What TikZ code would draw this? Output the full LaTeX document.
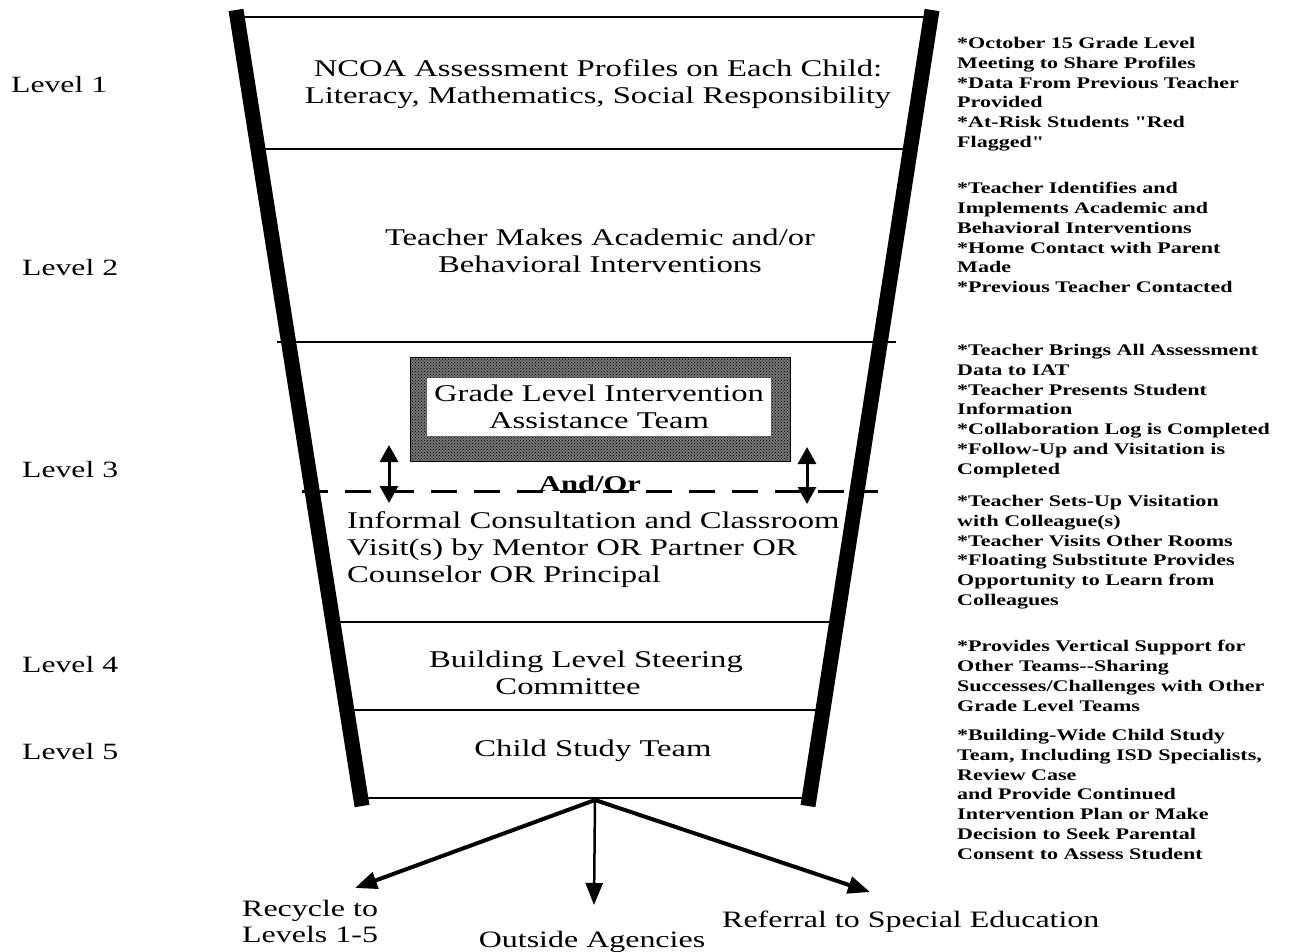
\documentclass[tikz,border=0pt]{standalone}
\usepackage{fontspec}
\setmainfont{Liberation Serif}[FakeStretch=1.36]
\newfontfamily\notefont{Liberation Serif}[FakeStretch=1.36]
\usetikzlibrary{arrows.meta,patterns}
\begin{document}
\begin{tikzpicture}[x=1pt,y=-1pt,
  bar/.style={line width=15pt},
  sep/.style={line width=2.6pt},
  maintext/.style={font=\fontsize{24}{27}\selectfont, align=center, inner sep=0pt},
  lvl/.style={font=\fontsize{23.3}{26}\selectfont, anchor=west, inner sep=0pt},
  note/.style={font=\notefont\bfseries\fontsize{16.2}{19.8}\selectfont, align=left, anchor=north west, inner sep=0pt},
  outlbl/.style={font=\fontsize{23.5}{26}\selectfont, inner sep=0pt},
  outarrow/.style={line width=4pt, -{Triangle[length=22pt,width=17pt]}},
  dblarrow/.style={line width=3pt, {Triangle[length=17pt,width=18pt]}-{Triangle[length=17pt,width=18pt]}},
  dashline/.style={line width=3pt, dash pattern=on 26pt off 17pt}
]
\useasboundingbox (0,0) rectangle (1289,952);

% separators
\coordinate (s0l) at (240,17);  \coordinate (s0r) at (928,17);
\coordinate (s1l) at (258,149); \coordinate (s1r) at (910,149);
\coordinate (s2l) at (277,342); \coordinate (s2r) at (896,342);
\coordinate (s3l) at (333,622); \coordinate (s3r) at (836,622);
\coordinate (s4l) at (347,710); \coordinate (s4r) at (823,710);
\coordinate (s5l) at (361,798); \coordinate (s5r) at (809,798);
\foreach \i in {0,...,5} {\draw[sep] (s\i l) -- (s\i r);}

% funnel sides
\coordinate (LT) at (236,10); \coordinate (LB) at (362,806);
\coordinate (RT) at (932,10); \coordinate (RB) at (808,806);
\draw[bar] (LT) -- (LB);
\draw[bar] (RT) -- (RB);

% level texts
\node[maintext] (t1) at (598,84) {NCOA Assessment Profiles on Each Child:\\Literacy, Mathematics, Social Responsibility};
\node[maintext] (t2) at (600,251) {Teacher Makes Academic and/or\\Behavioral Interventions};

% grade level box
\path[fill=black!55, draw=black, line width=1pt] (410,357) rectangle (790,461);
\path[pattern=crosshatch dots, pattern color=black] (410,357) rectangle (790,461);
\node[fill=white, minimum width=344pt, minimum height=58pt, inner sep=0pt] (glbox) at (599,407) {};
\node[maintext] (gl) at (glbox.center) {Grade Level Intervention\\Assistance Team};

% and/or
\coordinate (dl) at (302,491); \coordinate (dr) at (878,491);
\draw[dashline] (dl) -- (dr);
\node[font=\bfseries\fontsize{22.5}{24}\selectfont, inner sep=1pt] (andor) at (590,484) {And/Or};
\coordinate (a1t) at (389,445); \coordinate (a1b) at (389,503);
\coordinate (a2t) at (807,447); \coordinate (a2b) at (807,504);
\draw[dblarrow] (a1t) -- (a1b);
\draw[dblarrow] (a2t) -- (a2b);

\node[maintext, align=left, anchor=north west] (t3) at (347,511) {Informal Consultation and Classroom\\Visit(s) by Mentor OR Partner OR\\Counselor OR Principal};
\node[maintext] (t4) at (586,673) {Building Level Steering\\Committee\hspace*{36pt}};
\node[maintext] (t5) at (593,751) {Child Study Team};

% level labels
\node[lvl] (L1) at (11,85) {Level 1};
\node[lvl] (L2) at (22,268) {Level 2};
\node[lvl] (L3) at (22,470) {Level 3};
\node[lvl] (L4) at (22,665) {Level 4};
\node[lvl] (L5) at (22,752) {Level 5};

% right notes
\node[note] (n1) at (957,37) {*October 15 Grade Level\\Meeting to Share Profiles\\*Data From Previous Teacher\\Provided\\*At-Risk Students "Red\\Flagged"};
\node[note] (n2) at (957,182) {*Teacher Identifies and\\Implements Academic and\\Behavioral Interventions\\*Home Contact with Parent\\Made\\*Previous Teacher Contacted};
\node[note] (n3) at (957,344) {*Teacher Brings All Assessment\\Data to IAT\\*Teacher Presents Student\\Information\\*Collaboration Log is Completed\\*Follow-Up and Visitation is\\Completed};
\node[note] (n3b) at (957,495) {*Teacher Sets-Up Visitation\\with Colleague(s)\\*Teacher Visits Other Rooms\\*Floating Substitute Provides\\Opportunity to Learn from\\Colleagues};
\node[note] (n4) at (957,640) {*Provides Vertical Support for\\Other Teams--Sharing\\Successes/Challenges with Other\\Grade Level Teams};
\node[note] (n5) at (957,729) {*Building-Wide Child Study\\Team, Including ISD Specialists,\\Review Case\\and Provide Continued\\Intervention Plan or Make\\Decision to Seek Parental\\Consent to Assess Student};

% outcomes
\coordinate (src) at (595,800);
\node[outlbl, align=left, anchor=north west] (o1) at (242,900) {Recycle to\\Levels 1-5};
\node[outlbl] (o2) at (592,942) {Outside Agencies};
\node[outlbl, anchor=west] (o3) at (722,922) {Referral to Special Education};
\coordinate (o1t) at (355,888);
\coordinate (o2t) at (594,905);
\coordinate (o3t) at (870,892);
\draw[outarrow] (src) -- (o1t);
\draw[outarrow, line width=2.5pt] (src) -- (o2t);
\draw[outarrow] (src) -- (o3t);
\end{tikzpicture}
\end{document}
